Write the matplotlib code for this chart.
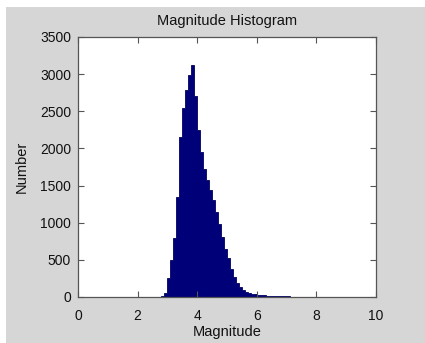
import numpy as np
import matplotlib
matplotlib.use("Agg")
import matplotlib.pyplot as plt
from matplotlib.patches import Rectangle

plt.rcParams['font.family'] = ['Liberation Sans', 'DejaVu Sans']

# Histogram data (bin width 0.1, first bin starts at 2.8)
first_edge = 2.8
bin_width = 0.1
counts = [10, 60, 250, 500, 800, 1350, 2150, 2550, 2780, 2990,
          3120, 2700, 2250, 1950, 1720, 1580, 1440, 1300, 1150, 980,
          810, 650, 520, 380, 270, 190, 130, 95, 70, 55,
          45, 38, 32, 27, 22, 18, 15, 13, 11, 10,
          9, 8, 7, 6, 6, 5, 5, 4, 4, 4,
          3, 3, 3, 3, 2, 2, 2, 2, 1]
x_ticks = [0, 2, 4, 6, 8, 10]
y_ticks = [0, 500, 1000, 1500, 2000, 2500, 3000, 3500]
title = "Magnitude Histogram"
xlabel = "Magnitude"
ylabel = "Number"

edges = first_edge + bin_width * np.arange(len(counts) + 1)

W, H = 425, 343
fig = plt.figure(figsize=(W / 100, H / 100), dpi=100)
fig.patch.set_facecolor('white')
bg = Rectangle((6 / W, 0), 1 - 6 / W, (H - 7) / H,
               transform=fig.transFigure, facecolor='#d6d6d6',
               edgecolor='none', zorder=-10)
fig.add_artist(bg)

ax = fig.add_axes([78 / W, 1 - 297 / H, (376 - 78) / W, (297 - 37) / H])
ax.set_zorder(5)
ax.set_facecolor('white')
ax.stairs(counts, edges, fill=True, facecolor='#000078', edgecolor='#000060',
          linewidth=0.6)

ax.set_xlim(0, 10)
ax.set_ylim(0, 3500)
ax.set_xticks(x_ticks)
ax.set_yticks(y_ticks)
ax.tick_params(direction='in', length=4, width=0.8, colors='#555555',
               labelcolor='#111111', labelsize=10, top=True, right=True)
ax.tick_params(axis='x', pad=9)
ax.tick_params(axis='y', pad=5)
for s in ax.spines.values():
    s.set_color('#555555')
    s.set_linewidth(0.9)

ax.set_title(title, fontsize=10.5, color='#111111', pad=9)
ax.set_xlabel(xlabel, fontsize=10.5, color='#111111', labelpad=1)
ax.set_ylabel(ylabel, fontsize=10.5, color='#111111', labelpad=8)

fig.savefig('out.png', dpi=100, facecolor=fig.get_facecolor())
